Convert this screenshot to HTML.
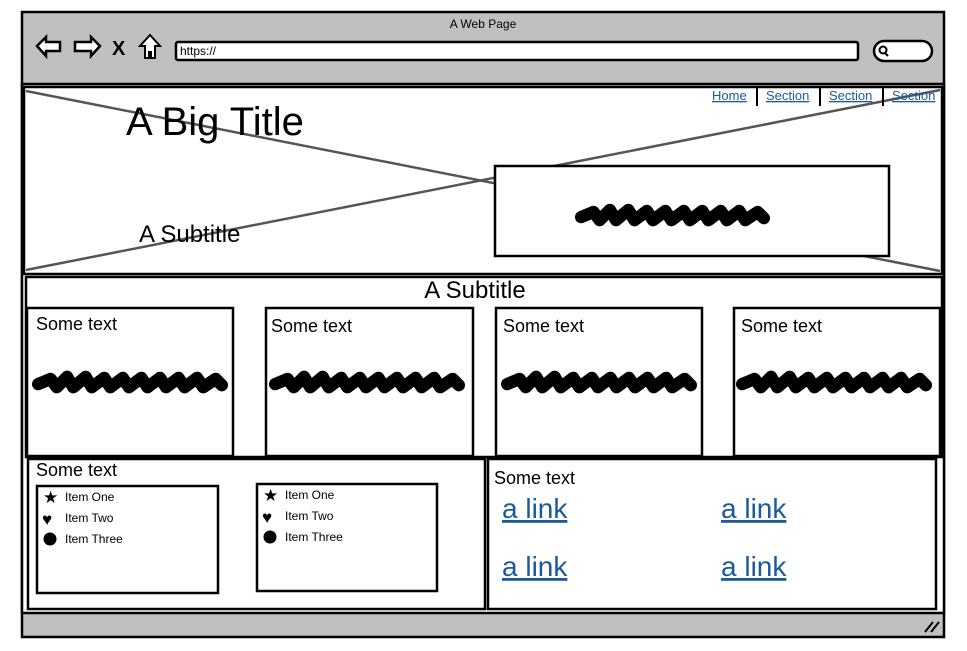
<!DOCTYPE html>
<html><head><meta charset="utf-8"><style>
html,body{margin:0;padding:0;background:#fff;}
svg{display:block;font-family:"Liberation Sans",sans-serif;}
</style></head><body>
<svg width="967" height="651" viewBox="0 0 967 651" xmlns="http://www.w3.org/2000/svg">
<defs>
<symbol id="sc" viewBox="0 0 190 24">
<polyline points="6,15 18,10 24,18 34,8 40,18 52,8 58,18 70,9 76,18 88,9 94,18 106,9 112,18 124,9 130,18 142,9 148,18 160,9 166,18 178,10 184,16" fill="none" stroke="#000" stroke-width="12" stroke-linecap="round" stroke-linejoin="round"/>
</symbol>
</defs>
<rect x="22" y="12" width="922" height="625" fill="#c0c0c0" stroke="#000" stroke-width="2.5"/>
<text x="483" y="28" font-size="12" text-anchor="middle">A Web Page</text>
<path d="M37,46 L46,37 L46,42 L60,42 L60,51 L46,51 L46,56 Z" fill="#fff" stroke="#000" stroke-width="2.5"/>
<path d="M100,46 L91,37 L91,42 L75,42 L75,51 L91,51 L91,56 Z" fill="#fff" stroke="#000" stroke-width="2.5"/>
<text x="112" y="55" font-size="20" font-weight="bold">X</text>
<path d="M150,35 L160,46 L155,46 L155,58 L151,58 L151,52 L149,52 L149,58 L145,58 L145,46 L140,46 Z" fill="#fff" stroke="#000" stroke-width="2"/>
<rect x="176" y="42" width="682" height="18" rx="2" fill="#fff" stroke="#000" stroke-width="2.5"/>
<text x="180" y="55" font-size="12">https://</text>
<rect x="874" y="41" width="58" height="20" rx="10" fill="#fff" stroke="#000" stroke-width="2.5"/>
<circle cx="883" cy="50" r="3.5" fill="none" stroke="#000" stroke-width="2"/>
<line x1="885" y1="53" x2="888" y2="56" stroke="#000" stroke-width="2"/>
<rect x="22" y="84" width="922" height="529" fill="#fff" stroke="#000" stroke-width="2.5"/>
<rect x="24" y="87" width="918" height="187" fill="#fff" stroke="#000" stroke-width="2.5"/>
<line x1="26" y1="91" x2="940" y2="271" stroke="#555" stroke-width="2.5"/>
<line x1="26" y1="270" x2="940" y2="90" stroke="#555" stroke-width="2.5"/>
<text x="126" y="135" font-size="40">A Big Title</text>
<text x="139" y="242" font-size="24">A Subtitle</text>
<g font-size="13" fill="#1a5a9a" text-decoration="underline">
<text x="712" y="100">Home</text>
<text x="766" y="100">Section</text>
<text x="829" y="100">Section</text>
<text x="892" y="100">Section</text>
</g>
<g stroke="#000" stroke-width="2">
<line x1="757" y1="88" x2="757" y2="106"/>
<line x1="820" y1="88" x2="820" y2="106"/>
<line x1="883" y1="88" x2="883" y2="106"/>
</g>
<rect x="495" y="166" width="394" height="90" fill="#fff" stroke="#000" stroke-width="2.5"/>
<use href="#sc" x="575" y="200" width="195" height="28"/>
<rect x="26" y="277" width="916" height="180" fill="#fff" stroke="#000" stroke-width="2.5"/>
<text x="475" y="298" font-size="24" text-anchor="middle">A Subtitle</text>
<g fill="#fff" stroke="#000" stroke-width="2.5">
<rect x="27" y="308" width="206" height="148"/>
<rect x="266" y="308" width="207" height="148"/>
<rect x="496" y="308" width="206" height="148"/>
<rect x="734" y="308" width="206" height="148"/>
</g>
<g font-size="18">
<text x="36" y="330">Some text</text>
<text x="271" y="332">Some text</text>
<text x="503" y="332">Some text</text>
<text x="741" y="332">Some text</text>
</g>
<use href="#sc" x="32" y="366" width="196" height="30"/>
<use href="#sc" x="269" y="366" width="196" height="30"/>
<use href="#sc" x="501" y="366" width="196" height="30"/>
<use href="#sc" x="736" y="366" width="196" height="30"/>
<rect x="28" y="459" width="457" height="150" fill="#fff" stroke="#000" stroke-width="2.5"/>
<rect x="488" y="459" width="448" height="150" fill="#fff" stroke="#000" stroke-width="2.5"/>
<text x="36" y="476" font-size="18">Some text</text>
<text x="494" y="484" font-size="18">Some text</text>
<rect x="37" y="486" width="181" height="107" fill="#fff" stroke="#000" stroke-width="2.5"/>
<rect x="257" y="484" width="180" height="107" fill="#fff" stroke="#000" stroke-width="2.5"/>
<g font-size="12">
<text x="65" y="501">Item One</text><text x="65" y="522">Item Two</text><text x="65" y="543">Item Three</text>
<text x="285" y="499">Item One</text><text x="285" y="520">Item Two</text><text x="285" y="541">Item Three</text>
</g>
<g font-size="17">
<text x="43" y="503">★</text><text x="42" y="525">♥</text>
<text x="263" y="501">★</text><text x="262" y="523">♥</text>
</g>
<circle cx="50" cy="539" r="6.5"/>
<circle cx="270" cy="537" r="6.5"/>
<g font-size="28" fill="#1a5a9a" text-decoration="underline">
<text x="502" y="518">a link</text>
<text x="721" y="518">a link</text>
<text x="502" y="576">a link</text>
<text x="721" y="576">a link</text>
</g>
<g stroke="#000" stroke-width="2">
<line x1="925" y1="632" x2="933" y2="622"/>
<line x1="931" y1="632" x2="939" y2="622"/>
</g>
</svg>
</body></html>
